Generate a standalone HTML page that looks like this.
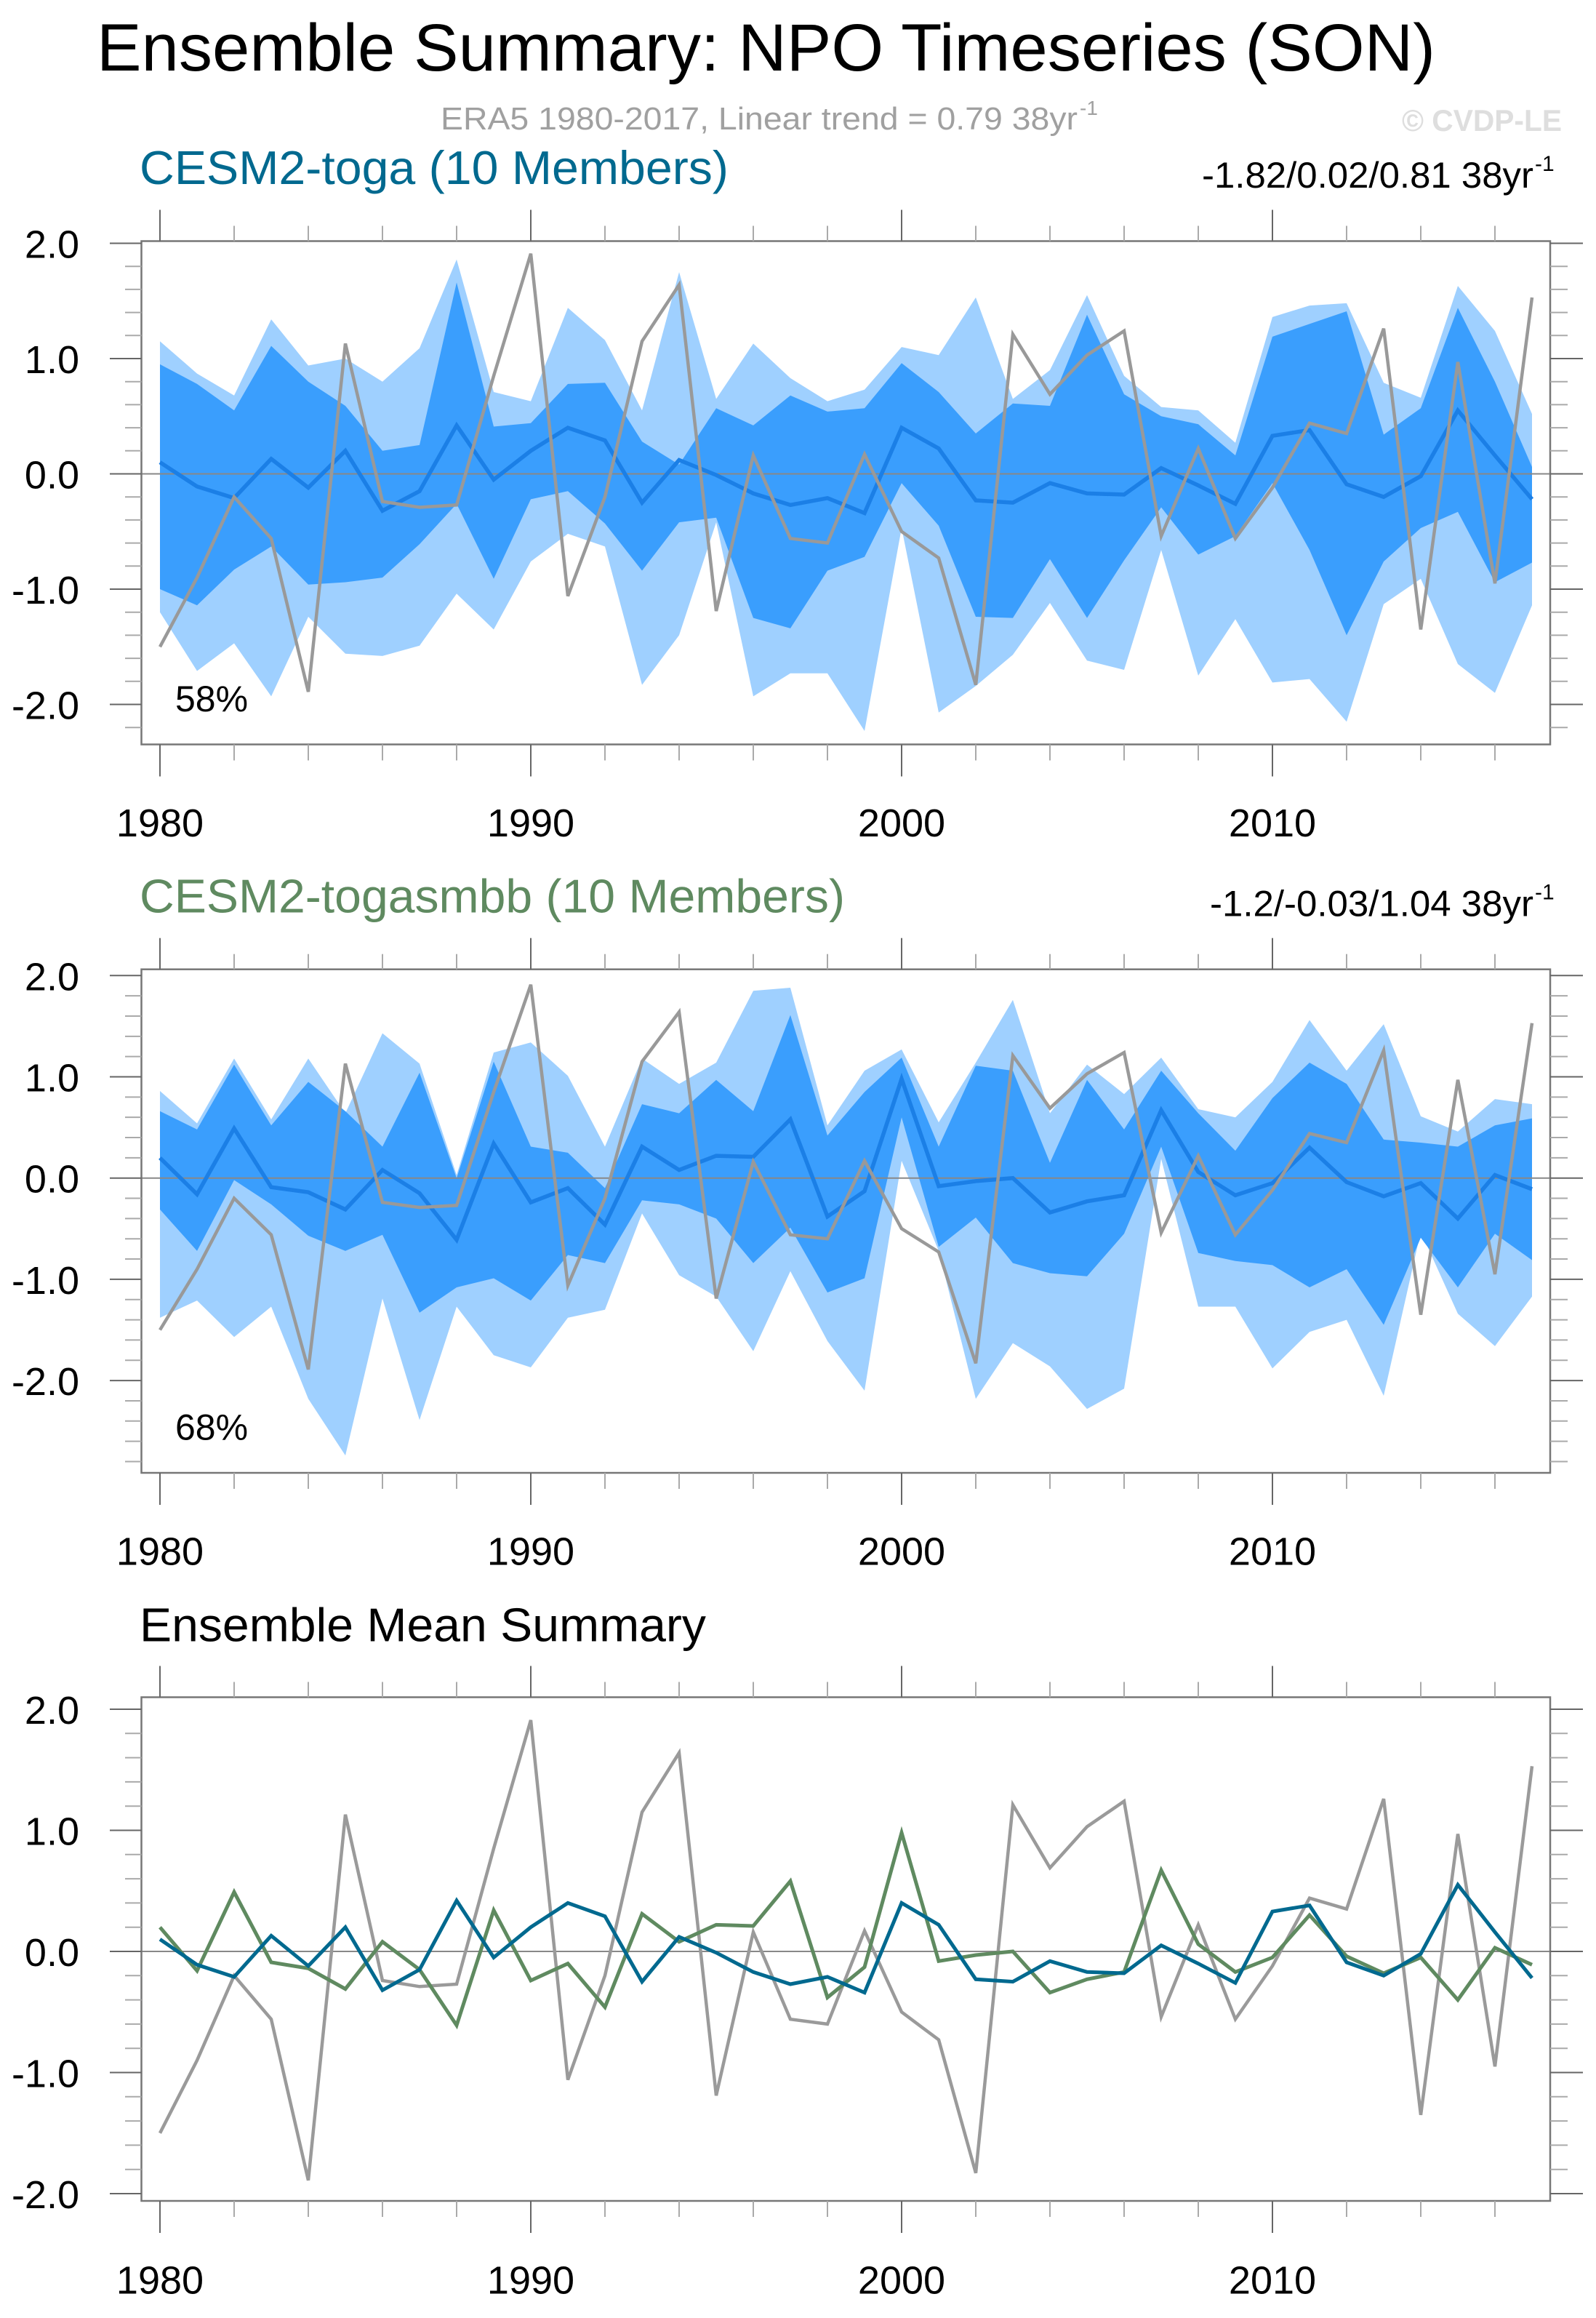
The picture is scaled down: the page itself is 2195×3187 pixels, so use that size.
<!DOCTYPE html>
<html><head><meta charset="utf-8"><style>
html,body{margin:0;padding:0;background:#fff;}
svg{display:block;font-family:"Liberation Sans",sans-serif;}
</style></head><body>
<svg id="chart" width="2195" height="3187" viewBox="0 0 2195 3187" xmlns="http://www.w3.org/2000/svg">
<text x="133" y="97" font-size="92" fill="#000" textLength="1841" lengthAdjust="spacingAndGlyphs">Ensemble Summary: NPO Timeseries (SON)</text>
<text x="606" y="178" font-size="44" fill="#a0a0a0" textLength="876" lengthAdjust="spacingAndGlyphs">ERA5 1980-2017, Linear trend = 0.79 38yr</text>
<text x="1485" y="158" font-size="28" fill="#a0a0a0">-1</text>
<text x="1928" y="180" font-size="42" font-weight="bold" fill="#dedede" textLength="220" lengthAdjust="spacingAndGlyphs">© CVDP-LE</text>
<g id="panels"></g>
</svg>
<script>
const years = [1980,1981,1982,1983,1984,1985,1986,1987,1988,1989,1990,1991,1992,1993,1994,1995,1996,1997,1998,1999,2000,2001,2002,2003,2004,2005,2006,2007,2008,2009,2010,2011,2012,2013,2014,2015,2016,2017];
const era5 = [-1.50,-0.90,-0.20,-0.56,-1.89,1.13,-0.24,-0.29,-0.27,0.85,1.91,-1.06,-0.20,1.15,1.64,-1.19,0.16,-0.56,-0.60,0.17,-0.50,-0.73,-1.83,1.21,0.69,1.03,1.24,-0.54,0.22,-0.56,-0.12,0.44,0.35,1.26,-1.35,0.97,-0.95,1.53];
const togaMean = [0.10,-0.11,-0.21,0.13,-0.12,0.20,-0.32,-0.15,0.42,-0.05,0.20,0.40,0.29,-0.25,0.12,-0.01,-0.17,-0.27,-0.21,-0.34,0.40,0.22,-0.23,-0.25,-0.08,-0.17,-0.18,0.05,-0.10,-0.26,0.33,0.38,-0.09,-0.20,-0.02,0.55,0.16,-0.22];
const smbbMean = [0.20,-0.16,0.49,-0.09,-0.14,-0.31,0.08,-0.15,-0.61,0.34,-0.24,-0.10,-0.46,0.31,0.08,0.22,0.21,0.58,-0.38,-0.13,0.98,-0.08,-0.03,0.00,-0.34,-0.23,-0.17,0.67,0.06,-0.17,-0.05,0.30,-0.04,-0.18,-0.05,-0.40,0.03,-0.11];
const togaLightHi = [1.15,0.87,0.68,1.34,0.94,1.00,0.80,1.09,1.86,0.71,0.63,1.44,1.16,0.55,1.75,0.65,1.13,0.83,0.63,0.73,1.10,1.03,1.53,0.65,0.90,1.55,0.85,0.58,0.55,0.27,1.36,1.46,1.48,0.79,0.66,1.63,1.24,0.52];
const togaDarkHi = [0.95,0.78,0.55,1.11,0.80,0.59,0.20,0.25,1.66,0.41,0.44,0.78,0.79,0.28,0.08,0.57,0.42,0.68,0.54,0.57,0.96,0.71,0.35,0.61,0.59,1.38,0.69,0.50,0.43,0.16,1.19,1.30,1.41,0.34,0.57,1.44,0.80,0.06];
const togaDarkLo = [-1.00,-1.14,-0.83,-0.63,-0.96,-0.94,-0.90,-0.61,-0.26,-0.91,-0.22,-0.15,-0.43,-0.84,-0.42,-0.38,-1.25,-1.34,-0.84,-0.72,-0.08,-0.45,-1.24,-1.25,-0.74,-1.25,-0.75,-0.29,-0.70,-0.54,-0.08,-0.66,-1.40,-0.76,-0.47,-0.33,-0.94,-0.77];
const togaLightLo = [-1.20,-1.71,-1.47,-1.93,-1.24,-1.56,-1.58,-1.49,-1.04,-1.35,-0.76,-0.52,-0.63,-1.83,-1.40,-0.42,-1.93,-1.73,-1.73,-2.23,-0.47,-2.07,-1.84,-1.57,-1.12,-1.62,-1.70,-0.66,-1.75,-1.26,-1.81,-1.78,-2.15,-1.13,-0.91,-1.65,-1.90,-1.14];
const smbbLightHi = [0.86,0.54,1.18,0.58,1.18,0.64,1.43,1.13,0.03,1.24,1.34,1.01,0.31,1.18,0.93,1.14,1.85,1.88,0.52,1.06,1.27,0.55,1.14,1.76,0.64,1.12,0.83,1.19,0.68,0.60,0.95,1.56,1.06,1.52,0.61,0.46,0.78,0.73];
const smbbDarkHi = [0.66,0.48,1.12,0.52,0.95,0.66,0.31,1.04,0.00,1.15,0.31,0.25,-0.10,0.73,0.64,0.97,0.66,1.61,0.42,0.85,1.19,0.31,1.11,1.06,0.15,0.97,0.48,1.06,0.64,0.27,0.79,1.14,0.93,0.38,0.35,0.31,0.52,0.59];
const smbbDarkLo = [-0.31,-0.72,-0.02,-0.26,-0.57,-0.72,-0.56,-1.33,-1.08,-0.99,-1.21,-0.76,-0.84,-0.22,-0.26,-0.40,-0.84,-0.49,-1.13,-0.99,0.60,-0.68,-0.39,-0.84,-0.94,-0.97,-0.55,0.31,-0.74,-0.82,-0.86,-1.08,-0.90,-1.45,-0.59,-1.08,-0.55,-0.81];
const smbbLightLo = [-1.38,-1.21,-1.57,-1.27,-2.18,-2.74,-1.19,-2.39,-1.27,-1.75,-1.87,-1.38,-1.30,-0.35,-0.96,-1.17,-1.71,-0.92,-1.61,-2.10,0.17,-0.72,-2.18,-1.63,-1.86,-2.28,-2.08,0.19,-1.27,-1.27,-1.88,-1.52,-1.40,-2.15,-0.53,-1.34,-1.66,-1.17];
const yTickLabels = ["2.0","1.0","0.0","-1.0","-2.0"];
const yTickValues = [2,1,0,-1,-2];
const xTickLabels = ["1980","1990","2000","2010"];

const NS = "http://www.w3.org/2000/svg";
const root = document.getElementById('panels');
function mk(tag, attrs, parent){const e=document.createElementNS(NS,tag);for(const k in attrs)e.setAttribute(k,attrs[k]);(parent||root).appendChild(e);return e;}
const X0 = 194.5, X1 = 2132;
function xs(yr){return 220 + (yr-1980)*51.0;}

const panels = [
 {id:'toga', top:331.5, bot:1023.5, y0:651.5, unit:158.5, minMinor:-2.2, title:'CESM2-toga (10 Members)', tcol:'#00698f', tlen:810, stat:'-1.82/0.02/0.81 38yr', statLen:456, pct:'58%', bands:[togaLightHi,togaDarkHi,togaDarkLo,togaLightLo], mean:togaMean},
 {id:'togasmbb', top:1332.7, bot:2025, y0:1619.7, unit:139.2, minMinor:-2.8, title:'CESM2-togasmbb (10 Members)', tcol:'#5f8a60', tlen:970, stat:'-1.2/-0.03/1.04 38yr', statLen:445, pct:'68%', bands:[smbbLightHi,smbbDarkHi,smbbDarkLo,smbbLightLo], mean:smbbMean},
 {id:'mean-summary', top:2333.5, bot:3026, y0:2683, unit:166.5, minMinor:-2.0, title:'Ensemble Mean Summary', tcol:'#000', tlen:779, stat:null}
];

panels.forEach((p,pi)=>{
  const off = pi*1001.7;
  const g = mk('g',{});
  
  
  const ys = v => p.y0 - v*p.unit;
  const t = mk('text',{x:192,y:253+off,'font-size':65,fill:p.tcol,textLength:p.tlen,lengthAdjust:'spacingAndGlyphs'},g);
  t.textContent = p.title;
  
  
  if(p.stat){
    const sx = 2109 - p.statLen;
    const s = mk('text',{x:sx,y:258+off,'font-size':50,fill:'#000',textLength:p.statLen,lengthAdjust:'spacingAndGlyphs'},g);
    s.textContent = p.stat;
    
    
    const sup = mk('text',{x:2111,y:235+off,'font-size':30,fill:'#000'},g);
    sup.textContent = '-1';
    
    
  }
  const cp = mk('clipPath',{id:'clip'+pi},g);
  mk('rect',{x:X0,y:p.top,width:X1-X0,height:p.bot-p.top},cp);
  const plot = mk('g',{'clip-path':'url(#clip'+pi+')'},g);
  
  
  if(p.bands){
    const band=(hi,lo,col,name)=>{
      let d='M'+years.map((y,i)=>xs(y).toFixed(1)+','+ys(hi[i]).toFixed(1)).join('L');
      for(let i=years.length-1;i>=0;i--) d+='L'+xs(years[i]).toFixed(1)+','+ys(lo[i]).toFixed(1);
      const e=mk('path',{d:d+'Z',fill:col},plot);
      
      
    };
    band(p.bands[0],p.bands[3],'#9fd0ff',p.id+'-range-band');
    band(p.bands[1],p.bands[2],'#3a9efd',p.id+'-iqr-band');
  }
  const z = mk('line',{x1:X0,x2:X1,y1:ys(0),y2:ys(0),stroke:'#888','stroke-width':2},plot);
  
  
  const line=(arr,col,w,name)=>{
    const e=mk('polyline',{points:years.map((y,i)=>xs(y).toFixed(1)+','+ys(arr[i]).toFixed(1)).join(' '),fill:'none',stroke:col,'stroke-width':w,'stroke-linejoin':'miter'},plot);
    
    
  };
  if(p.bands){
    line(p.mean,'#1b7fe6',5.5,p.id+'-ensemble-mean-line');
    line(era5,'#999999',4.5,p.id+'-era5-line');
  } else {
    line(era5,'#9a9a9a',4.5,'era5-line');
    line(smbbMean,'#5f8a60',5,'togasmbb-mean-line');
    line(togaMean,'#00698f',5,'toga-mean-line');
  }
  const fr = mk('rect',{x:X0,y:p.top,width:X1-X0,height:p.bot-p.top,fill:'none',stroke:'#777','stroke-width':2.5},g);
  
  
  for(let v=2.0; v>=p.minMinor-0.001; v-=0.2){
    const vv=Math.round(v*10)/10;
    const major = Math.abs(vv-Math.round(vv))<0.01;
    const y=ys(vv);
    mk('line',{x1:major?151:172,x2:X0,y1:y,y2:y,stroke:major?'#666':'#aaa','stroke-width':2},g);
    mk('line',{x1:X1,x2:major?2177:2156,y1:y,y2:y,stroke:major?'#666':'#aaa','stroke-width':2},g);
  }
  yTickValues.forEach((v,i)=>{
    const e=mk('text',{x:109,y:ys(v)+20,'font-size':54,'text-anchor':'end',fill:'#000'},g);
    e.textContent=yTickLabels[i];
    
    
  });
  for(let yr=1980; yr<=2016; yr+=2){
    const major=(yr%10===0);
    const x=xs(yr);
    mk('line',{x1:x,x2:x,y1:p.top,y2:p.top-(major?43:21),stroke:major?'#666':'#aaa','stroke-width':2},g);
    mk('line',{x1:x,x2:x,y1:p.bot,y2:p.bot+(major?44:22),stroke:major?'#666':'#aaa','stroke-width':2},g);
  }
  xTickLabels.forEach(l=>{
    const e=mk('text',{x:xs(+l),y:1150+off,'font-size':54,'text-anchor':'middle',fill:'#000'},g);
    e.textContent=l;
    
    
  });
  if(p.pct){
    const e=mk('text',{x:241,y:978+off,'font-size':50,fill:'#000'},g);
    e.textContent=p.pct;
    
    
  }
});
</script>
</body></html>
